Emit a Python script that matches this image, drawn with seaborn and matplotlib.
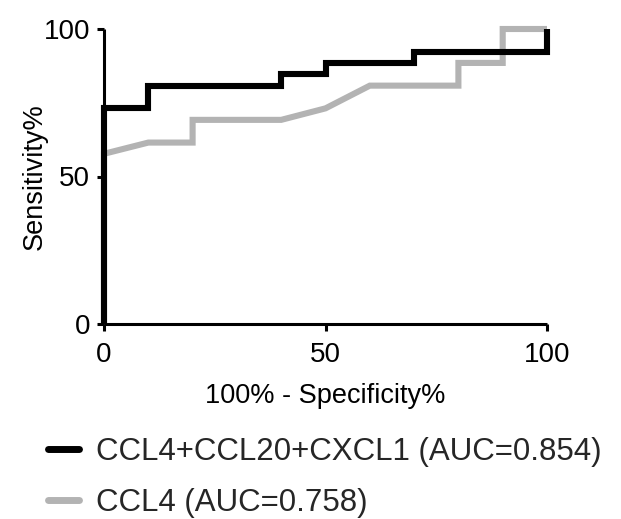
import matplotlib
matplotlib.use("Agg")
import matplotlib.pyplot as plt
from matplotlib.lines import Line2D
import seaborn as sns
import pandas as pd

# ROC curve coordinates (100% - specificity, sensitivity)
combo_label = "CCL4+CCL20+CXCL1 (AUC=0.854)"
combo_fpr = [0, 0, 10, 10, 40, 40, 50, 50, 70, 70, 100, 100]
combo_tpr = [0, 73.1, 73.1, 80.8, 80.8, 84.6, 84.6, 88.5, 88.5, 92.3, 92.3, 100]

single_label = "CCL4 (AUC=0.758)"
single_fpr = [0, 0, 10, 20, 20, 40, 50, 60, 80, 80, 90, 90, 100]
single_tpr = [0, 57.7, 61.5, 61.5, 69.2, 69.2, 73.1, 80.8, 80.8, 88.5, 88.5, 100, 100]

ticks = [0, 50, 100]
colors = {combo_label: "#000000", single_label: "#b3b3b3"}

df = pd.concat([
    pd.DataFrame({"fpr": single_fpr, "tpr": single_tpr, "model": single_label}),
    pd.DataFrame({"fpr": combo_fpr, "tpr": combo_tpr, "model": combo_label}),
], ignore_index=True)

sns.set_theme(style="ticks")
plt.rcParams["font.family"] = ["Liberation Sans", "DejaVu Sans"]

fig = plt.figure(figsize=(6.21, 5.19), dpi=100)
ax = fig.add_axes([104 / 621, 1 - 324 / 519, 443 / 621, 295 / 519])

lw = 4.4
for name in [single_label, combo_label]:
    sub = df[df["model"] == name]
    sns.lineplot(data=sub, x="fpr", y="tpr", sort=False, estimator=None,
                 color=colors[name], linewidth=lw, ax=ax, legend=False,
                 solid_joinstyle="miter", solid_capstyle="butt", clip_on=False,
                 zorder=3)

ax.set_xlim(0, 100)
ax.set_ylim(0, 100)
ax.set_xticks(ticks)
ax.set_yticks(ticks)
ax.set_xlabel("100% - Specificity%", fontsize=19.5, color="black", labelpad=11)
ax.set_ylabel("Sensitivity%", fontsize=19.5, color="black", labelpad=-3)
ax.tick_params(axis="both", direction="out", length=5, width=2.2,
               labelsize=20, colors="black", pad=5)
ax.tick_params(axis="x", pad=8)
for side in ["top", "right"]:
    ax.spines[side].set_visible(False)
for side in ["left", "bottom"]:
    ax.spines[side].set_linewidth(2.2)
    ax.spines[side].set_color("black")
    ax.spines[side].set_capstyle("butt")

handles = [Line2D([], [], color=colors[combo_label], linewidth=5, solid_capstyle="round"),
           Line2D([], [], color=colors[single_label], linewidth=5, solid_capstyle="round")]
fig.legend(handles, [combo_label, single_label], loc="upper left",
           bbox_to_anchor=(47.5 / 621, 1 - 437 / 519), frameon=False,
           fontsize=22.5, handlelength=1.02, handletextpad=0.53,
           labelspacing=0.66, borderpad=0, borderaxespad=0)

fig.savefig("out.png", dpi=100, facecolor="white")
